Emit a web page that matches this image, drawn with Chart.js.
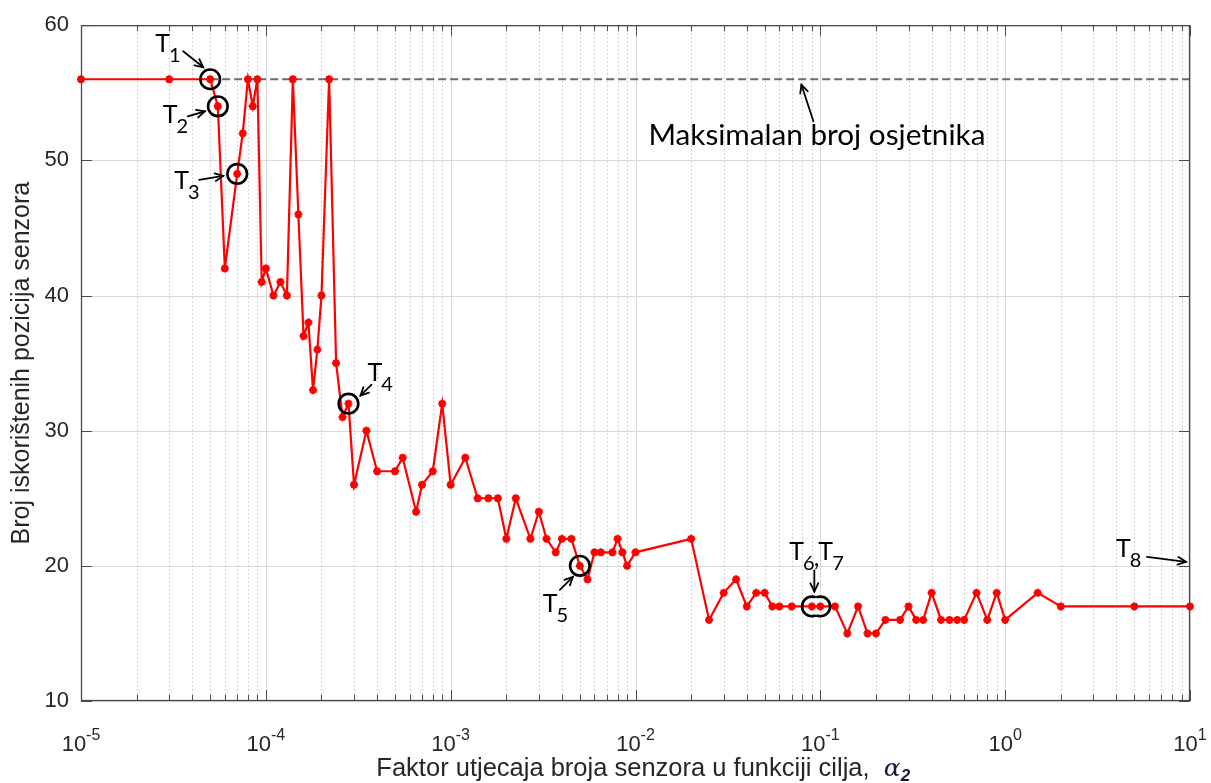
<!DOCTYPE html>
<html><head><meta charset="utf-8">
<script src="https://cdn.jsdelivr.net/npm/chart.js@4.4.1/dist/chart.umd.min.js"></script>
<style>html,body{margin:0;padding:0;background:#fff;}#wrap{width:1211px;height:783px;position:relative;}</style>
</head><body><div id="wrap"><canvas id="c" width="1211" height="783"></canvas></div>
<script>
// ---- data ----
const alphaValues = [
  1e-5, 3e-5, 5e-5, 5.5e-5, 6e-5, 7e-5, 7.5e-5, 8e-5, 8.5e-5, 9e-5, 9.5e-5,
  1e-4, 1.1e-4, 1.2e-4, 1.3e-4, 1.4e-4, 1.5e-4, 1.6e-4, 1.7e-4, 1.8e-4, 1.9e-4,
  2e-4, 2.2e-4, 2.4e-4, 2.6e-4, 2.8e-4, 3e-4, 3.5e-4, 4e-4, 5e-4, 5.5e-4, 6.5e-4,
  7e-4, 8e-4, 9e-4,
  1e-3, 1.2e-3, 1.4e-3, 1.6e-3, 1.8e-3, 2e-3, 2.25e-3, 2.7e-3, 3e-3, 3.3e-3,
  3.7e-3, 4e-3, 4.5e-3, 5e-3, 5.5e-3, 6e-3, 6.5e-3, 7.5e-3, 8e-3, 8.5e-3, 9e-3,
  1e-2, 2e-2, 2.5e-2, 3e-2, 3.5e-2, 4e-2, 4.5e-2, 5e-2, 5.5e-2, 6e-2, 7e-2, 9e-2,
  0.1, 0.12, 0.14, 0.16, 0.18, 0.2, 0.225, 0.27, 0.3, 0.33, 0.36, 0.4, 0.45, 0.5,
  0.55, 0.6, 0.7, 0.8, 0.9,
  1, 1.5, 2, 5, 10
];
const sensorCounts = [
  56, 56, 56, 54, 42, 49, 52, 56, 54, 56, 41,
  42, 40, 41, 40, 56, 46, 37, 38, 33, 36,
  40, 56, 35, 31, 32, 26, 30, 27, 27, 28, 24,
  26, 27, 32,
  26, 28, 25, 25, 25, 22, 25, 22, 24, 22,
  21, 22, 22, 20, 19, 21, 21, 21, 22, 21, 20,
  21, 22, 16, 18, 19, 17, 18, 18, 17, 17, 17, 17,
  17, 17, 15, 17, 15, 15, 16, 16, 17, 16, 16, 18, 16, 16,
  16, 16, 18, 16, 18,
  16, 18, 17, 17, 17
];
const maxSensors = 56;
const maxLineX = [5e-5, 10];
const xDecades = [-5, -4, -3, -2, -1, 0, 1];
const yTickValues = [10, 20, 30, 40, 50, 60];
const xTitleText = 'Faktor utjecaja broja senzora u funkciji cilja,';
const yTitleText = 'Broj iskorištenih pozicija senzora';
const maxLabelText = 'Maksimalan broj osjetnika';
// marked points: name, x, y
const markLabels = ['1', '2', '3', '4', '5', '6,7', '8'];
const markX = [5e-5, 5.5e-5, 7e-5, 2.8e-4, 5e-3, 0.1, 10];
const markY = [56, 54, 49, 32, 20, 17, 20];
const circledX = [5e-5, 5.5e-5, 7e-5, 2.8e-4, 5e-3, 9e-2, 0.1];
const circledY = [56, 54, 49, 32, 20, 17, 17];

// ---- styling / layout of annotations (pixel offsets from anchor) ----
const markStyle = [
  {tx: -55, ty: -27, a: [-27, -28, -7, -12]},
  {tx: -55, ty: 17, a: [-30, 10, -13, 5]},
  {tx: -63, ty: 15, a: [-38, 6, -14, 2]},
  {tx: 19, ty: -23, a: [23, -19, 12, -8]},
  {tx: -37, ty: 46, a: [-20, 24, -7, 11]},
  {tx: -31, ty: -46, a: [-6, -36, -6, -15]},
  {tx: -74, ty: -9, a: [-43, -9, -4, -4]}
];
const maxLabelAnchorX = 0.08;

const FONT = '"Liberation Sans", Arial, Helvetica, sans-serif';
const AFONT = 'Lato, "Open Sans", sans-serif';
const TXT = '#262626';

function arrow(ctx, x1, y1, x2, y2) {
  ctx.save();
  ctx.strokeStyle = '#000'; ctx.lineWidth = 1.8; ctx.lineCap = 'round';
  ctx.beginPath(); ctx.moveTo(x1, y1); ctx.lineTo(x2, y2); ctx.stroke();
  const ang = Math.atan2(y2 - y1, x2 - x1), L = 9, sp = 0.45;
  ctx.beginPath();
  ctx.moveTo(x2 - L * Math.cos(ang - sp), y2 - L * Math.sin(ang - sp));
  ctx.lineTo(x2, y2);
  ctx.lineTo(x2 - L * Math.cos(ang + sp), y2 - L * Math.sin(ang + sp));
  ctx.stroke();
  ctx.restore();
}

function tLabel(ctx, x, y, sub) {
  const parts = sub.split(',');
  let cx = x;
  ctx.save();
  ctx.fillStyle = '#000'; ctx.textAlign = 'left'; ctx.textBaseline = 'alphabetic';
  parts.forEach((p, i) => {
    if (i > 0) { ctx.font = '25px ' + AFONT; ctx.fillText(',', cx - 1, y + 6); cx += ctx.measureText(',').width - 2; }
    ctx.font = '25px ' + AFONT; ctx.fillText('T', cx, y); cx += ctx.measureText('T').width - 1;
    ctx.font = '20px ' + AFONT; ctx.fillText(p, cx, y + 10); cx += ctx.measureText(p).width;
  });
  ctx.restore();
}

const overlay = {
  id: 'overlay',
  beforeDatasetsDraw(chart) {
    const {ctx, chartArea: ca, scales: {x, y}} = chart;
    ctx.save();
    ctx.strokeStyle = '#c4c4c4'; ctx.lineWidth = 1; ctx.setLineDash([1.5, 2.5]);
    xDecades.forEach(d => {
      if (d === xDecades[xDecades.length - 1]) return;
      for (let k = 2; k <= 9; k++) {
        const px = Math.round(x.getPixelForValue(k * Math.pow(10, d))) + 0.5;
        ctx.beginPath(); ctx.moveTo(px, ca.top); ctx.lineTo(px, ca.bottom); ctx.stroke();
      }
    });
    ctx.setLineDash([]);
    ctx.strokeStyle = '#dadada';
    xDecades.forEach(d => {
      const px = Math.round(x.getPixelForValue(Math.pow(10, d))) + 0.5;
      ctx.beginPath(); ctx.moveTo(px, ca.top); ctx.lineTo(px, ca.bottom); ctx.stroke();
    });
    yTickValues.forEach(v => {
      const py = Math.round(y.getPixelForValue(v)) + 0.5;
      ctx.beginPath(); ctx.moveTo(ca.left, py); ctx.lineTo(ca.right, py); ctx.stroke();
    });
    ctx.restore();
  },
  afterDatasetsDraw(chart) {
    const {ctx, chartArea: ca, scales: {x, y}} = chart;
    ctx.save();
    ctx.strokeStyle = '#4a4a4a'; ctx.lineWidth = 1.3;
    ctx.strokeRect(ca.left + 0.5, ca.top + 0.5, ca.right - ca.left - 1, ca.bottom - ca.top - 1);
    ctx.lineWidth = 1;
    xDecades.forEach(d => {
      const px = Math.round(x.getPixelForValue(Math.pow(10, d))) + 0.5;
      ctx.beginPath();
      ctx.moveTo(px, ca.bottom); ctx.lineTo(px, ca.bottom - 11);
      ctx.moveTo(px, ca.top); ctx.lineTo(px, ca.top + 11);
      ctx.stroke();
      if (d === xDecades[xDecades.length - 1]) return;
      for (let k = 2; k <= 9; k++) {
        const qx = Math.round(x.getPixelForValue(k * Math.pow(10, d))) + 0.5;
        ctx.beginPath();
        ctx.moveTo(qx, ca.bottom); ctx.lineTo(qx, ca.bottom - 6);
        ctx.moveTo(qx, ca.top); ctx.lineTo(qx, ca.top + 6);
        ctx.stroke();
      }
    });
    yTickValues.forEach(v => {
      const py = Math.round(y.getPixelForValue(v)) + 0.5;
      ctx.beginPath();
      ctx.moveTo(ca.left, py); ctx.lineTo(ca.left + 11, py);
      ctx.moveTo(ca.right, py); ctx.lineTo(ca.right - 11, py);
      ctx.stroke();
    });
    ctx.fillStyle = TXT; ctx.textBaseline = 'alphabetic'; ctx.textAlign = 'left';
    xDecades.forEach(d => {
      const px = x.getPixelForValue(Math.pow(10, d));
      ctx.font = '22px ' + FONT; const w1 = ctx.measureText('10').width;
      const e = String(d);
      ctx.font = '16px ' + FONT; const w2 = ctx.measureText(e).width;
      const sx = px - (w1 + w2) / 2;
      ctx.font = '22px ' + FONT; ctx.fillText('10', sx, 751);
      ctx.font = '16px ' + FONT; ctx.fillText(e, sx + w1, 740);
    });
    ctx.font = '25.5px ' + FONT; const tw = ctx.measureText(xTitleText + '  ').width;
    ctx.font = 'italic 25px "DejaVu Serif", serif'; const aw = ctx.measureText('α').width;
    const total = tw + aw + 11;
    let sx = 644 - total / 2;
    ctx.font = '25.5px ' + FONT; ctx.fillText(xTitleText, sx, 776);
    ctx.fillStyle = '#1a1a40';
    ctx.font = 'italic 25px "DejaVu Serif", serif'; ctx.fillText('α', sx + tw, 776);
    ctx.font = 'bold italic 17px ' + FONT; ctx.fillText('2', sx + tw + aw, 781);
    ctx.restore();

    ctx.save();
    ctx.strokeStyle = '#000'; ctx.lineWidth = 2.6;
    const R = 9.8;
    const cps = circledX.map((cx, i) => [x.getPixelForValue(cx), y.getPixelForValue(circledY[i])]);
    cps.forEach((p, i) => {
      ctx.save();
      const others = cps.filter((q, j) => j !== i && Math.hypot(q[0] - p[0], q[1] - p[1]) < 2 * R);
      if (others.length) {
        ctx.beginPath(); ctx.rect(0, 0, chart.width, chart.height);
        others.forEach(q => { ctx.moveTo(q[0] + R, q[1]); ctx.arc(q[0], q[1], R, 0, Math.PI * 2); });
        ctx.clip('evenodd');
      }
      ctx.beginPath(); ctx.arc(p[0], p[1], R, 0, Math.PI * 2); ctx.stroke();
      ctx.restore();
    });
    ctx.restore();

    markLabels.forEach((lab, i) => {
      const ax = x.getPixelForValue(markX[i]), ay = y.getPixelForValue(markY[i]);
      const s = markStyle[i];
      tLabel(ctx, ax + s.tx, ay + s.ty, lab);
      arrow(ctx, ax + s.a[0], ay + s.a[1], ax + s.a[2], ay + s.a[3]);
    });

    const mx = x.getPixelForValue(maxLabelAnchorX), my = y.getPixelForValue(maxSensors);
    ctx.save();
    ctx.fillStyle = '#000'; ctx.font = '29.7px ' + AFONT; ctx.textAlign = 'left';
    ctx.fillText(maxLabelText, mx - 154, my + 66);
    ctx.restore();
    arrow(ctx, mx + 11, my + 42, mx - 1, my + 5.5);
  }
};

new Chart(document.getElementById('c'), {
  type: 'line',
  data: {
    datasets: [
      {
        data: alphaValues.map((v, i) => ({x: v, y: sensorCounts[i]})),
        borderColor: '#ff0000', backgroundColor: '#ff0000', borderWidth: 2.2,
        pointStyle: 'star', pointRadius: 4, pointBorderWidth: 2.4,
        pointBackgroundColor: '#ff0000', pointBorderColor: '#ff0000',
        tension: 0, clip: false, order: 1
      },
      {
        data: maxLineX.map(v => ({x: v, y: maxSensors})),
        borderColor: '#6a6a6a', borderWidth: 2, borderDash: [8, 4],
        pointRadius: 0, tension: 0, order: 2
      }
    ]
  },
  options: {
    responsive: false, animation: false, devicePixelRatio: 1,
    layout: {padding: {left: 0, right: 21, top: 21, bottom: 0}},
    plugins: {legend: {display: false}, tooltip: {enabled: false}},
    scales: {
      x: {
        type: 'logarithmic', min: 1e-5, max: 10,
        ticks: {display: false}, grid: {display: false, drawTicks: false}, border: {display: false},
        afterFit: s => { s.height = 82; }
      },
      y: {
        min: 10, max: 60,
        ticks: {stepSize: 10, color: TXT, padding: 12, font: {family: FONT, size: 22}},
        grid: {display: false, drawTicks: false}, border: {display: false},
        title: {display: true, text: yTitleText, color: TXT, font: {family: FONT, size: 25}, padding: {top: 7, bottom: 0}},
        afterFit: s => { s.width = 81; }
      }
    }
  },
  plugins: [overlay]
});
</script></body></html>
